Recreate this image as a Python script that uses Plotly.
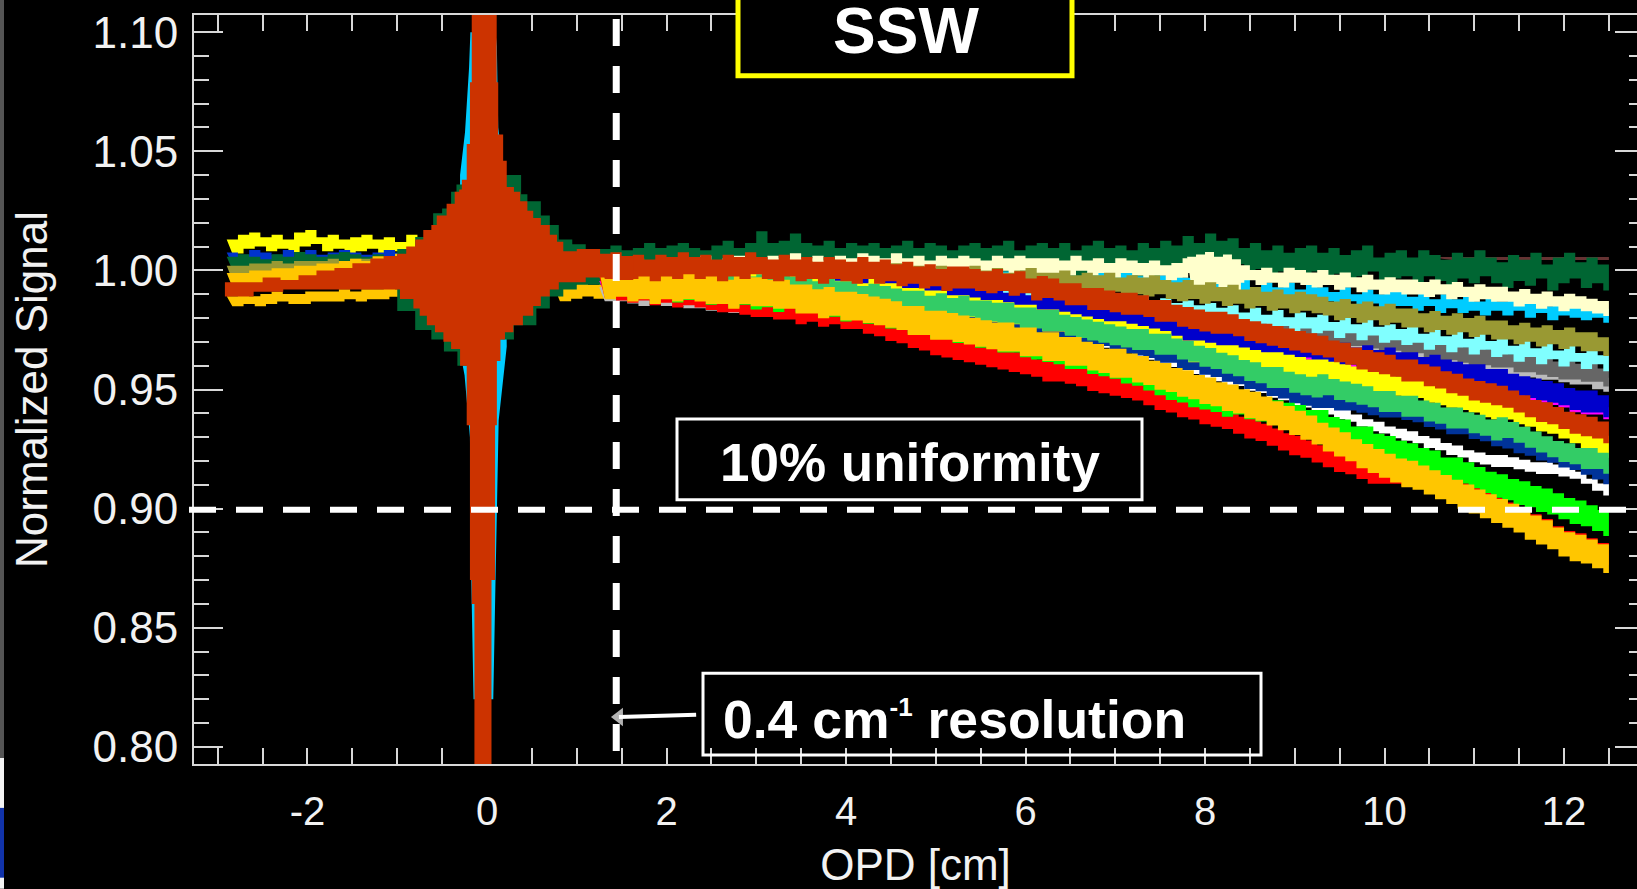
import plotly.graph_objects as go

# ---------- data (signal in thousandths of the normalized level) ----------
opd = [1.25 + 0.125 * i for i in range(91)]
left_opd = [-2.9 + 0.125 * i for i in range(19)]
right_wing_opd = [0.75, 0.875, 1.0, 1.125, 1.25, 1.375]

maroon_opd = [10.5, 11, 11.5, 12, 12.5]
maroon = [1005, 1005, 1005, 1005, 1006]
bump_opd = [7.8, 7.9, 8.0, 8.1, 8.2, 8.3, 8.4]
cream_bump = [999, 1000, 1001, 999, 1000, 998, 997]

dark_green = [1003,1005,1003,1004,1006,1004,1005,1006, 1004,1003,1005,1007,1004,1006,1011,1006, 1007,1010,1006,1005,1007,1004,1006,1005, 1006,1004,1005,1007,1004,1006,1005,1003, 1005,1006,1004,1005,1007,1003,1005,1006, 1004,1006,1003,1005,1007,1004,1005,1003, 1006,1004,1007,1005,1009,1006,1010,1007, 1008,1004,1006,1003,1005,1002,1004,1005, 1002,1004,1001,1003,1005,1000,1002,1003, 1000,1003,1001,999,1002,1000,1003,1000, 998,1001,999,1002,997,1000,1002,998, 1000,997,999]
cream = [1000,1001,1000,1002,1001,1000,1002,1001, 1001,1003,1001,1002,1003,1002,1001,1003, 1002,1004,1002,1003,1001,1003,1002,1004, 1003,1002,1004,1002,1003,1001,1003,1002, 1003,1002,1001,1003,1002,1003,1002,1002, 1002,1001,1003,1001,1002,1000,1002,1001, 1000,1001,999,1000,1002,998,1000,999, 998,999,997,998,996,998,997,996, 997,995,996,994,995,993,994,993, 993,992,993,991,992,990,991,990, 990,988,989,987,988,986,987,986, 985,984,983]
cyan = [999,1000,999,1001,1000,999,1001,1000, 1000,1001,999,1000,999,1001,1000,1000, 1000,999,1001,1000,999,1000,1001,1000, 1000,1001,999,1000,1001,999,1000,1000, 999,1000,1001,999,1000,998,999,999, 998,999,997,998,997,998,996,997, 996,997,995,996,994,995,993,994, 992,994,990,992,990,992,989,991, 990,988,990,987,989,987,988,988, 986,988,985,987,985,986,984,986, 984,986,983,985,982,984,983,982, 983,981,982]
olive = [998,999,998,999,997,998,999,998, 999,1000,999,1000,1001,999,999,1000, 1000,999,1000,998,999,1000,998,999, 999,998,999,997,998,997,998,996, 997,998,996,997,995,996,997,995, 995,996,994,995,994,995,993,994, 993,994,992,991,992,990,991,989, 990,988,989,987,988,986,987,986, 985,983,984,982,983,981,982,980, 980,978,979,977,978,976,977,975, 975,973,974,972,973,971,972,970, 970,968,968]
light_cyan = [996,997,995,996,997,994,996,995, 995,996,994,995,993,994,995,993, 994,993,995,992,994,992,993,991, 993,991,992,990,992,990,991,989, 991,989,990,988,990,988,990,987, 989,987,988,986,988,986,987,985, 986,984,985,983,984,982,983,981, 982,979,981,978,980,977,979,977, 978,975,977,974,976,973,974,972, 973,970,972,969,971,968,970,967, 968,965,967,964,966,963,965,962, 964,961,962]
gray = [994,993,994,992,993,992,993,991, 992,991,992,990,991,990,990,989, 990,989,990,988,989,988,989,987, 988,987,988,986,987,986,986,985, 986,985,985,984,985,983,984,983, 984,983,983,982,983,981,982,981, 981,980,980,979,979,978,978,977, 978,976,977,975,976,975,975,974, 974,973,972,972,971,970,970,969, 969,967,966,966,965,964,964,963, 963,961,961,960,959,958,958,957, 957,955,955]
light_gray = [990,990,989,988,989,988,988,987, 987,986,987,985,986,985,985,984, 985,984,984,983,983,982,982,981, 982,981,981,980,980,979,979,978, 979,978,978,977,977,976,976,975, 976,975,975,974,974,973,973,972, 973,973,972,972,971,971,970,970, 972,971,971,970,970,969,969,968, 968,968,967,967,966,966,966,965, 965,963,964,962,961,961,960,960, 959,958,958,957,957,956,955,955, 953,952,951]
blue = [996,997,995,996,998,996,997,996, 997,998,996,997,995,996,997,995, 996,995,994,995,993,994,993,992, 993,992,991,992,990,989,990,988, 990,989,987,988,986,987,985,986, 985,984,982,983,981,982,979,980, 978,976,977,974,975,973,971,972, 971,969,970,968,969,967,968,966, 966,964,965,963,964,962,963,961, 961,959,960,958,957,956,956,954, 954,952,951,950,949,948,946,945, 945,943,942]
magenta = [993,994,992,993,995,993,994,993, 994,995,993,994,992,993,994,992, 993,992,991,992,990,991,990,989, 990,989,988,989,987,986,987,985, 987,986,984,985,983,984,982,983, 982,981,979,980,978,979,976,977, 975,973,974,971,972,970,968,969, 968,966,967,965,966,964,965,963, 963,961,962,960,961,959,960,958, 958,956,957,955,954,953,953,951, 951,949,948,947,946,945,943,942, 942,940,939]
orange_red = [1001,1003,1001,1002,1000,1002,1001,1003, 1001,1002,1000,1002,1001,1003,1001,1000, 1002,1000,1001,999,1001,1000,999,1001, 999,1000,998,999,997,998,996,997, 997,996,995,996,994,995,992,993, 992,990,990,988,988,987,986,986, 985,983,983,981,980,979,978,978, 977,975,974,973,972,971,970,969, 968,966,965,963,962,961,960,958, 958,956,955,953,952,950,949,948, 947,945,943,941,940,938,936,935, 934,932,931]
yellow = [999,998,999,997,998,996,997,996, 997,996,996,995,996,994,995,993, 995,993,994,992,993,991,992,990, 992,990,990,988,988,987,987,985, 985,984,983,983,982,981,981,979, 979,978,977,976,975,974,974,973, 972,971,970,968,966,966,965,964, 964,963,962,961,961,960,959,958, 958,957,956,955,954,953,952,951, 951,949,948,947,946,945,943,942, 942,940,939,937,936,934,932,930, 928,926,924]
medium_green = [998,997,998,996,997,996,995,996, 996,995,995,994,995,993,994,993, 994,993,993,991,992,991,991,989, 990,989,988,987,987,985,986,984, 985,983,983,982,982,980,980,979, 979,977,976,975,974,973,972,971, 971,969,969,967,966,964,963,961, 960,958,957,955,955,953,952,951, 952,950,949,948,947,945,945,943, 943,941,940,938,938,936,935,933, 934,932,930,928,926,924,923,921, 921,919,917]
navy = [997,996,997,995,996,994,995,994, 995,993,994,992,993,991,993,991, 992,990,991,989,990,988,988,986, 988,986,987,985,985,983,984,982, 983,981,981,979,979,977,977,975, 975,973,973,971,972,970,969,968, 967,965,965,962,962,960,959,957, 956,954,953,951,950,948,947,946, 946,945,945,944,943,942,942,941, 940,938,937,935,935,933,932,930, 929,927,926,924,923,921,920,918, 916,914,912]
white = [996,995,996,994,995,993,994,993, 994,992,993,992,992,991,992,990, 991,989,990,988,990,987,988,986, 987,985,986,984,985,982,983,981, 981,979,979,977,978,975,975,974, 974,972,972,970,970,968,968,966, 965,963,962,960,959,957,956,954, 954,952,951,949,948,946,945,943, 942,940,939,937,935,934,932,931, 930,928,927,925,924,922,921,920, 920,919,918,917,917,916,915,913, 910,908,906]
bright_green = [996,995,994,995,993,994,992,993, 993,991,992,990,991,989,990,988, 990,988,988,986,986,984,985,983, 983,981,981,979,979,977,977,975, 975,973,973,971,971,969,968,967, 966,964,964,962,961,960,958,957, 955,953,951,950,948,947,946,944, 945,943,942,941,940,939,938,936, 936,933,932,929,929,926,925,923, 922,920,919,916,916,914,912,910, 909,907,906,904,903,901,899,898, 896,894,892]
amber = [994,995,993,994,992,994,993,994, 993,992,992,990,992,991,991,990, 990,988,988,986,987,985,985,984, 983,982,981,979,979,977,977,976, 975,974,973,972,972,970,970,968, 968,966,966,964,963,961,961,959, 958,956,955,953,952,950,949,947, 946,944,943,941,939,937,935,933, 930,928,926,923,921,919,917,915, 914,912,910,908,906,904,902,900, 898,896,893,891,889,886,884,883, 881,879,877]
red = [993,992,991,992,990,991,989,990, 989,988,987,987,986,985,985,984, 984,982,983,981,982,980,980,978, 977,975,974,972,971,969,968,967, 966,965,964,963,962,961,960,958, 958,957,956,954,953,952,951,950, 948,946,945,943,942,940,939,938, 936,934,933,931,929,927,926,924, 922,920,919,917,915,915,915,914, 916,914,912,910,908,906,904,902, 900,898,895,893,891,888,886,885, 883,881,879]

yellow_left = [1010,1012,1013,1011,1012,1010,1013,1014,1011,1012,1010,1011,1012,1010,1011,1009,1012,1010,1009]
blue_left = [1005,1004,1006,1005,1004,1006,1005,1006,1004,1005,1006,1005,1004,1005,1006,1005,1006,1005,1005]
green_left = [1003,1004,1003,1002,1004,1003,1005,1004,1003,1004,1005,1004,1003,1004,1003,1004,1005,1006,1006]
olive_left = [999,999,1000,1000,1001,1000,1001,1001,1001,1002,1001,1002,1002,1002,1003,1002,1003,1003,1003]
amber_left = [996,996,997,997,998,998,999,999,1000,1000,1001,1002,1001,1003,1002,1004,1003,1004,1005]
lower_left = [987,988,987,988,989,988,988,989,989,989,990,989,990,990,991,990,990,989,989]
right_wing = [990,991,992,991,992,991]

burst_opd = [-2.92,-2.7,-2.5,-2.3,-2.1,-1.9,-1.7,-1.5,-1.3,-1.15,-1.0,-0.9,-0.8,-0.71,-0.62,-0.56,-0.45,-0.36,-0.31,-0.28,-0.226,-0.19,-0.17,0.09,0.108,0.125,0.18,0.22,0.3,0.37,0.45,0.515,0.6,0.7,0.78,0.85,1.0,1.26,1.45,1.63,
             1.63,1.44,1.1,0.89,0.8,0.7,0.6,0.515,0.4,0.294,0.2,0.15,0.11,0.09,0.05,0.05,-0.14,-0.14,-0.17,-0.19,-0.226,-0.30,-0.4,-0.486,-0.58,-0.67,-0.75,-0.82,-0.97,-1.3,-1.71,-2.27,-2.6,-2.92]
burst = [995,995,997,996,998,1000,1001,1003,1005,1006,1007,1010,1013,1017,1019,1023,1028,1033,1034,1038,1053,1079,1110,1110,1079,1057,1046,1035,1033,1029,1025,1022,1019,1015,1012,1008,1009,1007,1006,1006,
         996,997,995,995,992,989,985,981,977,974,971,962,935,870,860,790,790,860,870,935,960,967,970,974,977,981,984,988,992,992,992,991,989,988]

skirt_opd = [-1.0,-0.8,-0.7,-0.6,-0.5,-0.4,-0.34,-0.1,0.3,0.38,0.45,0.6,0.7,0.8,0.95,1.1,1.45,1.45,1.0,0.85,0.7,0.55,0.3,-0.1,-0.33,-0.48,-0.62,-0.8,-1.0]
skirt = [1009,1014,1017,1024,1026,1033,1036,1040,1040,1032,1029,1023,1019,1013,1011,1009,1006,994,992,989,984,977,971,960,966,971,975,983,989]
spike_opd = [-0.3,-0.245,-0.2,-0.185,0.095,0.11,0.125,0.2,0.22,0.16,0.13,0.095,0.07,-0.15,-0.175,-0.19,-0.215,-0.25,-0.3]
spike = [1040,1058,1085,1100,1100,1094,1060,1039,968,946,937,870,820,820,870,930,941,956,966]

arrow_opd = [2.33, 1.47]
arrow_level = [0.8135, 0.8125]

x_tick_values = [-2, 0, 2, 4, 6, 8, 10, 12]
x_tick_labels = ["-2", "0", "2", "4", "6", "8", "10", "12"]
y_tick_values = [0.80, 0.85, 0.90, 0.95, 1.00, 1.05, 1.10]
y_tick_labels = ["0.80", "0.85", "0.90", "0.95", "1.00", "1.05", "1.10"]

# ---------- geometry and style ----------
W, H = 1637, 889
L, R, T, B = 194, 1637, 15, 766
PX_PER_UNIT = 2.387  # pixels per thousandth on the y axis
def px(x): return (x - L) / (R - L)
def py(y): return 1 - (y - T) / (B - T)
ORANGE = "#CC3300"
AXIS = "#D8D8D8"
TEXT = "#F2F2F2"
FONT = "Liberation Sans"

fig = go.Figure()

def band(x, vals, colour, width, name):
    """A stepped ribbon `width` pixels thick around a series; the lower edge steps half a sample later."""
    half = width / 2 / PX_PER_UNIT
    n = len(x)
    step = (x[1] - x[0]) / 2
    ux, uy, lx, ly = [], [], [], []
    for i in range(n - 1):
        ux += [x[i], x[i + 1]]
        uy += [(vals[i] + half) / 1000] * 2
        lx += [x[i] + step, min(x[i + 1] + step, x[-1])]
        ly += [(vals[i] - half) / 1000] * 2
    fig.add_trace(go.Scatter(x=ux + lx[::-1], y=uy + ly[::-1], mode="lines", name=name, fill="toself",
                             fillcolor=colour, line=dict(color=colour, width=0), showlegend=False, hoverinfo="skip"))

def poly(x, vals, colour, name, shape="hv"):
    fig.add_trace(go.Scatter(x=x, y=[v / 1000 for v in vals], mode="lines", name=name, fill="toself",
                             fillcolor=colour, line=dict(color=colour, width=0, shape=shape), showlegend=False, hoverinfo="skip"))

band(maroon_opd, maroon, "#663333", 3, "maroon")
band(left_opd, yellow_left, "#FFFF00", 14, "yellow wing")
band(left_opd, blue_left, "#0033CC", 12, "blue wing")
band(left_opd, green_left, "#006633", 13, "green wing")
band(left_opd, olive_left, "#999933", 14, "olive wing")
band(left_opd, lower_left, "#FFC600", 10, "lower wing")
band(left_opd, amber_left, "#FFC600", 14, "amber wing")
band(right_wing_opd, right_wing, "#FFC600", 14, "right wing")
poly(spike_opd, spike, "#00CCFF", "spike fringe", "linear")
poly(skirt_opd, skirt, "#006633", "skirt fringe")
band(opd, light_gray, "#BBBBBB", 14, "light gray")
band(opd, gray, "#666666", 18, "gray")
band(opd, light_cyan, "#80FFFF", 16, "light cyan")
band(opd, cyan, "#00CCFF", 14, "cyan")
band(opd, dark_green, "#006633", 26, "dark green")
band(opd, cream, "#FFFFCC", 15, "cream")
band(bump_opd, cream_bump, "#FFFFCC", 32, "cream bump")
band(opd, olive, "#999933", 19, "olive")
band(opd, magenta, "#FF00FF", 12, "magenta")
band(opd, blue, "#0000CC", 22, "blue")
band(opd, white, "#FFFFFF", 12, "white")
band(opd, navy, "#003399", 18, "navy")
band(opd, yellow, "#FFFF00", 22, "yellow")
band(opd, medium_green, "#33CC66", 21, "medium green")
band(opd, red, "#FF0000", 22, "red")
band(opd, bright_green, "#00FF00", 26, "bright green")
band(opd, amber, "#FFC600", 29, "amber")
band(opd, orange_red, ORANGE, 22, "orange red")
poly(burst_opd, burst, ORANGE, "centre burst")

# carries the right-hand ticks of the frame
fig.add_trace(go.Scatter(x=[None], y=[None], yaxis="y2", showlegend=False, hoverinfo="skip"))

# the pointer to the resolution line
fig.add_trace(go.Scatter(x=arrow_opd, y=arrow_level, mode="lines+markers", showlegend=False, hoverinfo="skip",
                         line=dict(color="white", width=4),
                         marker=dict(symbol="triangle-left", size=[0, 16], color="white", line=dict(width=0))))

y_range = [0.7928, 1.1072]
fig.update_layout(
    width=W, height=H, margin=dict(l=L, r=W - R, t=T, b=H - B, pad=0),
    paper_bgcolor="black", plot_bgcolor="black", showlegend=False,
    font=dict(family=FONT, color=TEXT, size=40),
    xaxis=dict(range=[-3.2645, 12.813], tickmode="array", tickvals=x_tick_values, ticktext=x_tick_labels,
               ticks="inside", ticklen=16, tickwidth=2, tickcolor=AXIS, showgrid=False, zeroline=False,
               showline=True, linecolor=AXIS, linewidth=2, mirror="allticks", layer="below traces",
               minor=dict(dtick=0.5, tick0=0, ticks="inside", ticklen=9, tickwidth=2, tickcolor=AXIS, showgrid=False),
               ticklabelstandoff=11, tickfont=dict(size=40, family=FONT, color=TEXT),
               title=dict(text="OPD [cm]", font=dict(size=44, family=FONT, color=TEXT), standoff=25)),
    yaxis=dict(range=y_range, tickmode="array", tickvals=y_tick_values, ticktext=y_tick_labels,
               ticks="inside", ticklen=29, tickwidth=2, tickcolor=AXIS, showgrid=False, zeroline=False,
               showline=True, linecolor=AXIS, linewidth=2, layer="below traces",
               minor=dict(dtick=0.01, tick0=0.8, ticks="inside", ticklen=15, tickwidth=2, tickcolor=AXIS, showgrid=False),
               ticklabelstandoff=5, tickfont=dict(size=44, family=FONT, color=TEXT),
               title=dict(text="Normalized Signal", font=dict(size=44, family=FONT, color=TEXT), standoff=31)),
    yaxis2=dict(range=y_range, overlaying="y", side="right", tickmode="array", tickvals=y_tick_values,
                showticklabels=False, ticks="inside", ticklen=22, tickwidth=2, tickcolor=AXIS,
                showgrid=False, zeroline=False, showline=False,
                minor=dict(dtick=0.01, tick0=0.8, ticks="inside", ticklen=8, tickwidth=2, tickcolor=AXIS, showgrid=False)),
)

def box(x0, y0, x1, y1, colour, width, fill="black"):
    fig.add_shape(type="rect", xref="paper", yref="paper", x0=px(x0), x1=px(x1), y0=py(y0), y1=py(y1),
                  line=dict(color=colour, width=width), fillcolor=fill, layer="above")

fig.add_shape(type="line", xref="paper", yref="y", x0=px(189), x1=1, y0=0.8995, y1=0.8995,
              line=dict(color="white", width=6, dash="27px,20px"), layer="above")
fig.add_shape(type="line", xref="x", yref="paper", x0=1.44, x1=1.44, y0=py(19), y1=py(770),
              line=dict(color="white", width=7, dash="27px,20px"), layer="above")
box(738, -6, 1072, 76, "#FFFF00", 5)
box(677, 420, 1142, 501, "white", 3)
box(703, 675, 1261, 757, "white", 3, "rgba(0,0,0,0)")
# slide background showing at the left edge
box(-2, -2, 4, 760, "#555555", 0, "#555555")
box(-2, 760, 4, 891, "#F4F4F4", 0, "#F4F4F4")
box(-2, 810, 4, 880, "#1133AA", 0, "#1133AA")

def label(text, x, y, size, anchor="center"):
    fig.add_annotation(text=text, xref="paper", yref="paper", x=px(x), y=py(y), showarrow=False,
                       xanchor=anchor, yanchor="middle", font=dict(family=FONT, size=size, color="white"))

label("<b>SSW</b>", 906, 31, 64)
label("<b>10% uniformity</b>", 910, 464, 53)
label('<b>0.4 cm<sup><span style="font-size:26px">-1</span></sup> resolution</b>', 721, 721, 53.5, "left")

fig.write_html("out.html", config=dict(displayModeBar=False),
               post_script="document.body.style.margin='0';document.documentElement.style.overflow='hidden';")
